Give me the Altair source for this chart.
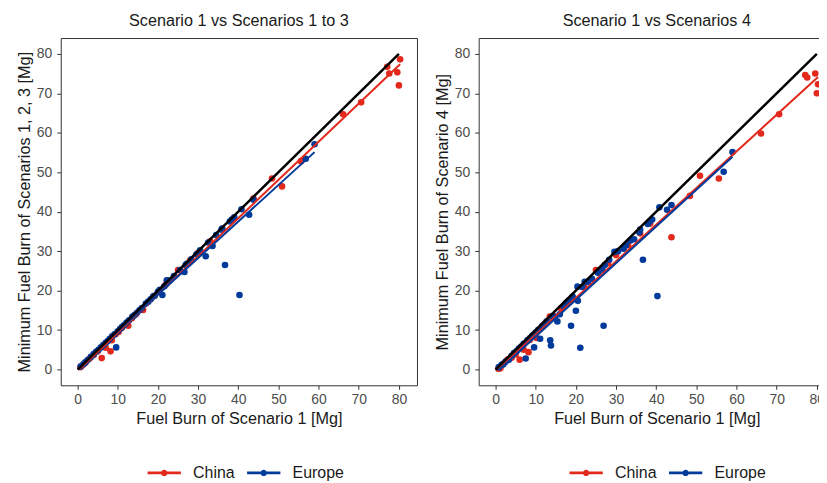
import altair as alt
import pandas as pd

regions = ["China", "Europe"]
colors = ["#E2291B", "#003A9B"]

china_s1 = [80.3, 77.1, 77.6, 79.6, 80.0, 70.6, 66.1, 55.6, 50.9, 48.4, 43.8, 38.5, 36.0, 33.0, 30.0, 28.0, 25.0, 22.0,
            19.0, 16.3, 14.5, 12.6, 11.0, 9.5, 8.5, 8.2, 6.0, 7.0, 5.0, 4.0, 3.0, 2.0, 1.2, 0.7, 10.2, 13.5]
china_min123 = [78.6, 76.7, 75.0, 75.3, 72.0, 67.7, 64.7, 52.8, 46.4, 48.4, 43.3, 38.0, 35.6, 32.5, 29.6, 27.6, 25.2, 21.6,
                18.6, 15.1, 14.0, 11.1, 10.6, 9.0, 7.4, 4.6, 2.9, 5.5, 4.6, 3.7, 2.8, 1.8, 1.1, 0.6, 9.5, 13.0]
china_s4 = [72.3, 74.6, 74.0, 75.0, 70.0, 64.7, 59.8, 48.4, 49.1, 44.0, 33.5, 37.0, 34.5, 31.5, 29.0, 27.0, 25.2, 21.0,
            18.2, 15.5, 13.6, 12.0, 10.2, 8.8, 7.5, 4.4, 2.5, 5.0, 3.8, 3.0, 2.5, 1.5, 0.3, 0.2, 8.0, 13.4]

europe_s1 = [59.0, 56.8, 43.8, 42.7, 40.8, 40.3, 36.7, 37.9, 35.8, 33.6, 31.9, 29.6, 28.3, 26.6, 26.9, 21.1, 22.2, 20.0,
             20.5, 18.8, 20.4, 13.6, 13.8, 15.4, 11.1, 9.6, 7.5, 16.0, 17.0, 24.0, 25.5, 23.0, 30.5, 32.5, 34.5, 36.0,
             39.0, 38.4, 0.8, 1.5, 1.9, 2.5, 3.3, 4.0, 4.6, 5.2, 5.8, 6.4, 7.0, 8.0, 8.6, 9.2, 10.0, 10.6, 11.6, 12.2,
             12.8, 14.2, 14.8, 17.6, 18.2, 19.2, 21.6, 27.2]
europe_min123 = [57.1, 53.4, 43.0, 39.2, 40.6, 18.9, 26.5, 37.5, 35.4, 31.3, 28.7, 29.2, 27.9, 24.7, 26.5, 18.9, 22.6, 19.7,
                 20.2, 18.5, 20.1, 13.3, 13.5, 15.0, 10.8, 5.6, 7.2, 15.6, 16.7, 23.7, 25.2, 22.6, 30.2, 32.2, 34.1, 35.7,
                 38.6, 38.0, 0.8, 1.4, 1.8, 2.4, 3.2, 3.9, 4.5, 5.0, 5.6, 6.2, 6.8, 7.8, 8.4, 8.9, 9.7, 10.3, 11.3, 11.9,
                 12.5, 13.8, 14.4, 17.2, 17.8, 18.7, 21.1, 26.8]
europe_s4 = [55.1, 50.1, 41.7, 40.5, 41.1, 18.6, 27.8, 36.9, 34.8, 32.7, 30.6, 29.8, 27.8, 25.3, 11.1, 5.5, 22.2, 14.9,
             17.4, 11.1, 21.0, 7.4, 6.1, 12.2, 7.8, 5.6, 2.8, 14.0, 16.0, 23.0, 24.5, 22.2, 30.0, 31.5, 33.0, 35.5,
             38.0, 37.5, 0.6, 1.2, 1.3, 2.0, 2.5, 3.5, 4.2, 4.6, 5.3, 5.8, 6.5, 7.5, 8.0, 8.6, 9.4, 10.0, 11.0, 11.5,
             12.2, 13.5, 13.2, 16.9, 17.5, 18.5, 20.9, 26.5]

identity_vals = [0, 80]
axis_ticks = [0, 10, 20, 30, 40, 50, 60, 70, 80]

df = pd.DataFrame({
    "region": ["China"] * len(china_s1) + ["Europe"] * len(europe_s1),
    "s1": china_s1 + europe_s1,
    "min123": china_min123 + europe_min123,
    "s4": china_s4 + europe_s4,
})
ident = pd.DataFrame({"s1": identity_vals, "min123": identity_vals, "s4": identity_vals})

FONT = "Liberation Sans"
legend_symbol = ("M-1,-0.085H1V0.085H-1Z "
                 "M0.19,0A0.19,0.19 0 1 1 -0.19,0A0.19,0.19 0 1 1 0.19,0Z")


def panel(yfield, ytitle, title, legend_x):
    xsc = alt.Scale(domain=[-4.2, 84.5], nice=False, zero=False)
    ysc = alt.Scale(domain=[-4, 84], nice=False, zero=False)
    csc = alt.Scale(domain=regions, range=colors)
    xax = alt.Axis(values=axis_ticks, title="Fuel Burn of Scenario 1 [Mg]", grid=False,
                   labelPadding=3, titlePadding=4)
    yax = alt.Axis(values=axis_ticks, title=ytitle, grid=False, labelPadding=5, titlePadding=4)
    pts = alt.Chart(df).mark_circle(size=44, opacity=1).encode(
        x=alt.X("s1:Q", scale=xsc, axis=xax),
        y=alt.Y(f"{yfield}:Q", scale=ysc, axis=yax),
        color=alt.Color("region:N", scale=csc, legend=alt.Legend(
            title=None, orient="none", direction="horizontal",
            legendX=legend_x, legendY=420,
            symbolType=legend_symbol, symbolSize=1120, symbolStrokeWidth=0,
            labelFontSize=16, labelColor="#1A1A1A", labelFont=FONT,
            columnPadding=12, labelOffset=12)),
    )
    reg = alt.Chart(df).transform_regression("s1", yfield, groupby=["region"]).mark_line(strokeWidth=2).encode(
        x=alt.X("s1:Q", scale=xsc),
        y=alt.Y(f"{yfield}:Q", scale=ysc),
        color=alt.Color("region:N", scale=csc, legend=None),
    )
    idl = alt.Chart(ident).mark_line(color="black", strokeWidth=2.5).encode(
        x=alt.X("s1:Q", scale=xsc),
        y=alt.Y(f"{yfield}:Q", scale=ysc),
    )
    return alt.layer(pts, reg, idl).properties(
        width=358, height=349,
        title=alt.Title(title, fontSize=16.3, fontWeight="normal", font=FONT, color="#1A1A1A", offset=9),
    )


left = panel("min123", "Minimum Fuel Burn of Scenarios 1, 2, 3 [Mg]", "Scenario 1 vs Scenarios 1 to 3", 87)
right = panel("s4", "Minimum Fuel Burn of Scenario 4 [Mg]", "Scenario 1 vs Scenarios 4", 91)

chart = alt.hconcat(left, right, spacing=15).resolve_scale(color="independent").resolve_legend(
    color="independent"
).properties(
    padding={"left": 7, "top": 3, "right": -17, "bottom": 0}
).configure(background="white").configure_axis(
    grid=False, domain=False, tickColor="#333333", tickSize=4, tickWidth=1,
    labelFont=FONT, labelFontSize=14, labelColor="#4D4D4D",
    titleFont=FONT, titleFontSize=16.3, titleColor="#1A1A1A", titleFontWeight="normal",
).configure_view(
    stroke="#333333", strokeWidth=1
)

chart.save("out.html", embed_options={"renderer": "svg", "actions": False})
